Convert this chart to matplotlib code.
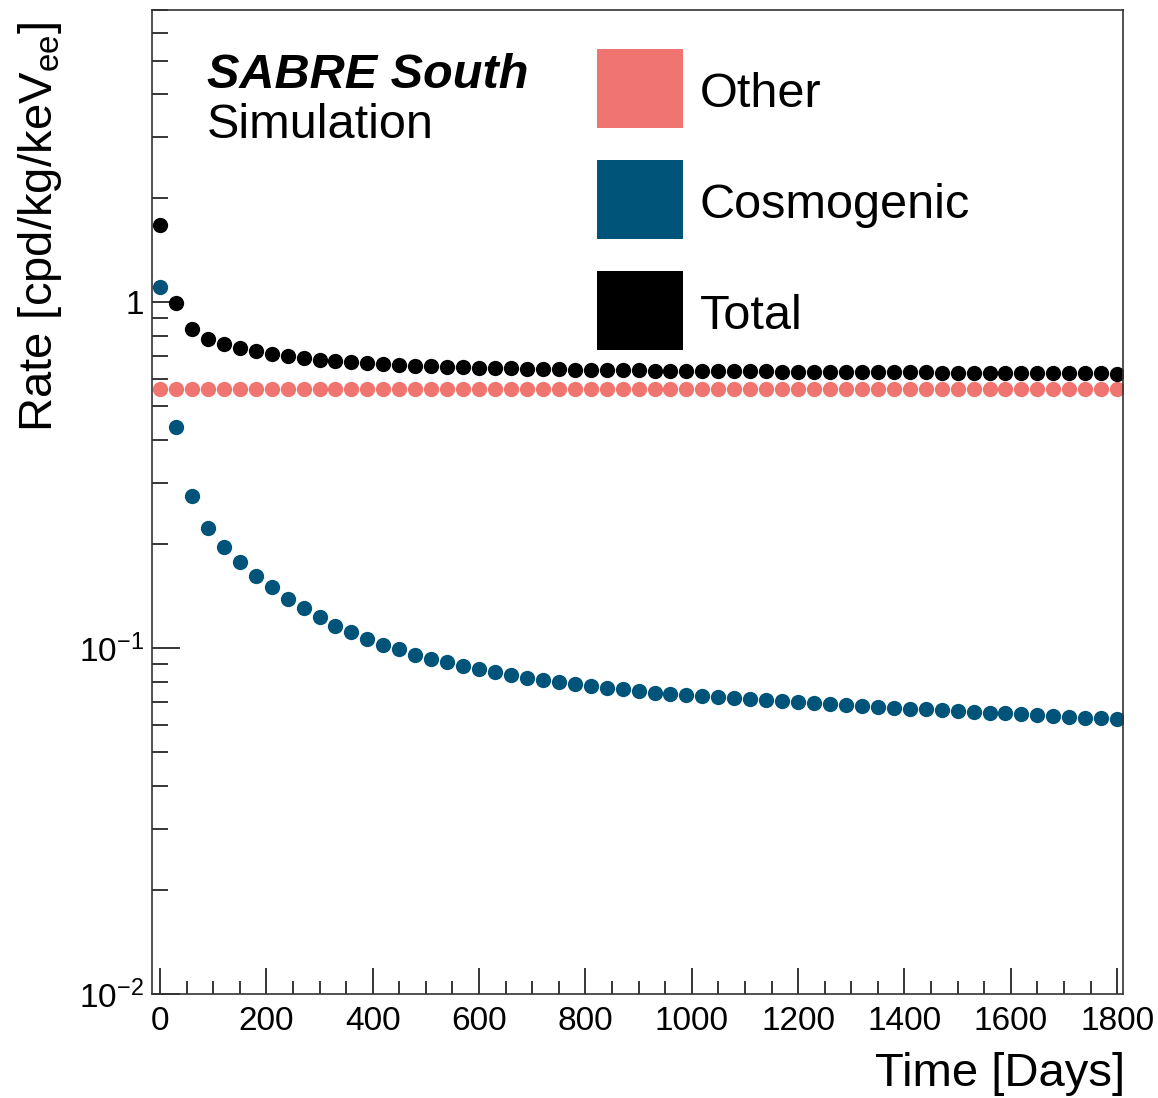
import numpy as np
import matplotlib
matplotlib.use("Agg")
import matplotlib.pyplot as plt
from matplotlib.patches import Rectangle
from matplotlib.ticker import FixedLocator, FixedFormatter, MultipleLocator, LogLocator, NullFormatter

plt.rcParams['font.family'] = ['Liberation Sans', 'DejaVu Sans']
plt.rcParams['mathtext.default'] = 'regular'

# ---- data ----
days = np.arange(0, 1801, 30)   # one point every 30 days

cosmogenic = [1.110, 0.4353, 0.2756, 0.2232, 0.1966, 0.1772, 0.1615, 0.1501, 0.1388, 0.1305,
              0.1231, 0.1162, 0.1117, 0.1064, 0.1024, 0.0991, 0.0956, 0.0931, 0.0910, 0.0889,
              0.0871, 0.0854, 0.0837, 0.0822, 0.0810, 0.0797, 0.0787, 0.0777, 0.0768, 0.0760,
              0.0751, 0.0744, 0.0738, 0.0732, 0.0727, 0.0721, 0.0716, 0.0711, 0.0706, 0.0702,
              0.0697, 0.0693, 0.0689, 0.0685, 0.0681, 0.0677, 0.0673, 0.0669, 0.0665, 0.0662,
              0.0658, 0.0655, 0.0651, 0.0648, 0.0644, 0.0640, 0.0636, 0.0633, 0.0629, 0.0626,
              0.0622]

other = [0.56] * 61

total = [1.670, 0.995, 0.836, 0.783, 0.757, 0.737, 0.722, 0.710, 0.699, 0.691,
         0.683, 0.676, 0.672, 0.666, 0.662, 0.659, 0.656, 0.653, 0.651, 0.649,
         0.647, 0.645, 0.644, 0.642, 0.641, 0.640, 0.639, 0.638, 0.637, 0.636,
         0.635, 0.634, 0.634, 0.633, 0.633, 0.632, 0.632, 0.631, 0.631, 0.630,
         0.630, 0.629, 0.629, 0.629, 0.628, 0.628, 0.627, 0.627, 0.627, 0.626,
         0.626, 0.626, 0.625, 0.625, 0.624, 0.624, 0.624, 0.623, 0.623, 0.623,
         0.622]

names = ["Other", "Cosmogenic", "Total"]
colors = ["#F07570", "#00547A", "#000000"]
series = [other, cosmogenic, total]

ytick_vals = [0.01, 0.1, 1]
ytick_labels = ["$10^{-2}$", "$10^{-1}$", "1"]

# ---- figure ----
W, H = 1158, 1098
fig = plt.figure(figsize=(W / 100, H / 100), dpi=100)
ax = fig.add_axes([152 / W, 1 - 994 / H, (1123 - 152) / W, 984 / H])

for vals, c in zip(series, colors):
    ax.plot(days, vals, 'o', color=c, ms=11, mew=0)

ax.set_yscale('log')
ax.set_xlim(-15, 1811)
ax.set_ylim(0.01, 7.0)

ax.xaxis.set_major_locator(MultipleLocator(200))
ax.xaxis.set_minor_locator(MultipleLocator(50))
ax.yaxis.set_major_locator(FixedLocator(ytick_vals))
ax.yaxis.set_major_formatter(FixedFormatter(ytick_labels))
ax.yaxis.set_minor_locator(LogLocator(base=10, subs=np.arange(2, 10)))
ax.yaxis.set_minor_formatter(NullFormatter())

ax.tick_params(axis='x', which='major', direction='in', length=19, width=1.1, labelsize=24, pad=9, top=False)
ax.tick_params(axis='x', which='minor', direction='in', length=9.5, width=1.1, top=False)
ax.tick_params(axis='y', which='major', direction='in', length=20, width=1.1, labelsize=24, pad=6, right=False)
ax.tick_params(axis='y', which='minor', direction='in', length=11.5, width=1.1, right=False)
for s in ax.spines.values():
    s.set_linewidth(1.2)
    s.set_color('#333333')

# axis titles (ROOT style, aligned to the ends)
fig.text(1125 / W, 1 - 1086 / H, "Time [Days]", ha='right', va='baseline', fontsize=34)
fig.text(40 / W, 1 - 22 / H, "Rate [cpd/kg/keV$_{ee}$]", ha='center', va='top',
         rotation=90, fontsize=34)

# experiment label
fig.text(207 / W, 1 - 88 / H, "SABRE South", fontsize=35, fontweight='bold',
         fontstyle='italic', va='baseline')
fig.text(207 / W, 1 - 138 / H, "Simulation", fontsize=35, va='baseline')

# legend with filled boxes
box_tops = [49, 160, 271]
for name, c, top in zip(names, colors, box_tops):
    fig.add_artist(Rectangle((597 / W, 1 - (top + 79) / H), 86 / W, 79 / H,
                             transform=fig.transFigure, facecolor=c, edgecolor='none'))
    fig.text(700 / W, 1 - (top + 39.5 + 18) / H, name, fontsize=35, va='baseline')

fig.savefig("out.png", dpi=100)
